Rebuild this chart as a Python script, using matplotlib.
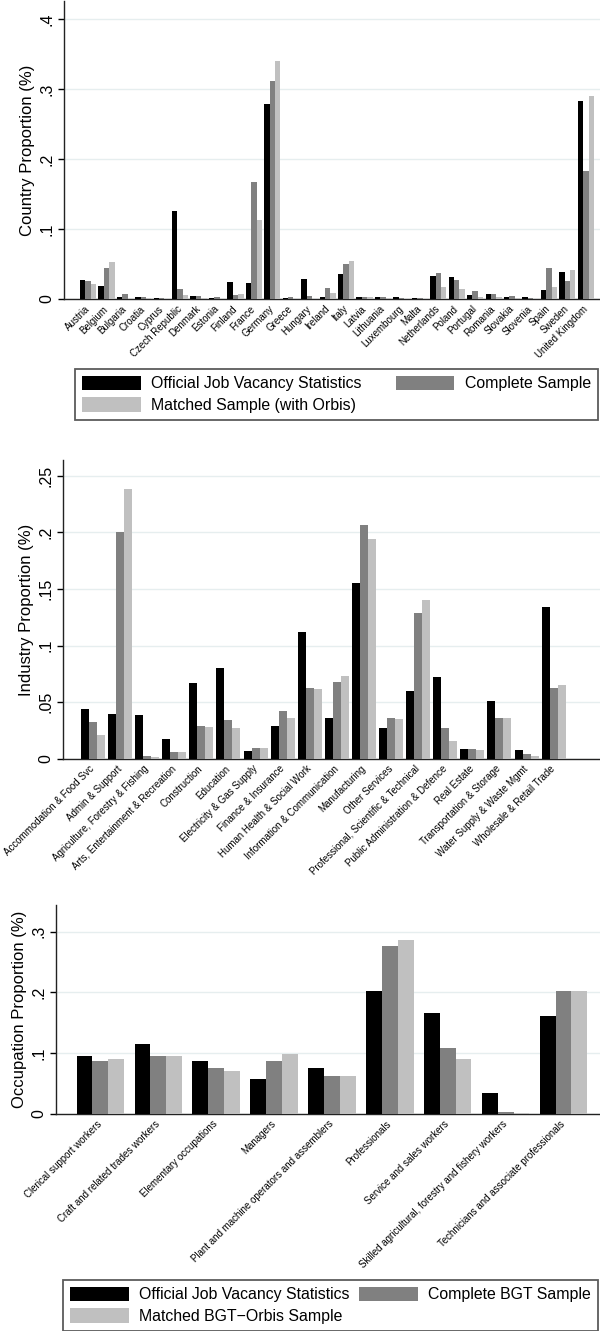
import matplotlib
matplotlib.use("Agg")
import matplotlib.pyplot as plt
import numpy as np
from matplotlib.patches import Patch

plt.rcParams['font.family'] = ['Liberation Sans', 'DejaVu Sans']

# bar colours for the three series
black = '#000000'
mid_gray = '#808080'
light_gray = '#c0c0c0'
grid_color = '#e6eeef'

# country shares
countries = ['Austria', 'Belgium', 'Bulgaria', 'Croatia', 'Cyprus', 'Czech Republic',
             'Denmark', 'Estonia', 'Finland', 'France', 'Germany', 'Greece', 'Hungary',
             'Ireland', 'Italy', 'Latvia', 'Lithuania', 'Luxembourg', 'Malta',
             'Netherlands', 'Poland', 'Portugal', 'Romania', 'Slovakia', 'Slovenia',
             'Spain', 'Sweden', 'United Kingdom']
country_official = [0.027, 0.019, 0.003, 0.003, 0.0015, 0.126, 0.004, 0.001, 0.024, 0.023,
                    0.279, 0.001, 0.029, 0.003, 0.036, 0.003, 0.003, 0.003, 0.001, 0.033,
                    0.031, 0.006, 0.007, 0.003, 0.003, 0.013, 0.039, 0.283]
country_complete = [0.026, 0.044, 0.007, 0.003, 0.001, 0.014, 0.004, 0.003, 0.006, 0.167,
                    0.311, 0.003, 0.004, 0.016, 0.050, 0.003, 0.003, 0.001, 0.001, 0.037,
                    0.027, 0.011, 0.007, 0.004, 0.001, 0.044, 0.026, 0.183]
country_matched = [0.021, 0.053, 0.0005, 0.001, 0.0005, 0.006, 0.001, 0.0005, 0.007, 0.113,
                   0.340, 0.0005, 0.0005, 0.009, 0.054, 0.003, 0.001, 0.0005, 0.0005, 0.017,
                   0.014, 0.003, 0.003, 0.001, 0.0005, 0.017, 0.041, 0.290]

# industry shares
industries = ['Accommodation & Food Svc', 'Admin & Support', 'Agriculture, Forestry & Fishing',
              'Arts, Entertainment & Recreation', 'Construction', 'Education',
              'Electricity & Gas Supply', 'Finance & Insurance', 'Human Health & Social Work',
              'Information & Communication', 'Manufacturing', 'Other Services',
              'Professional, Scientific & Technical', 'Public Administration & Defence',
              'Real Estate', 'Transportation & Storage', 'Water Supply & Waste Mgmt',
              'Wholesale & Retail Trade']
industry_official = [0.044, 0.040, 0.039, 0.018, 0.067, 0.080, 0.007, 0.029, 0.112,
                     0.036, 0.155, 0.027, 0.060, 0.072, 0.009, 0.051, 0.008, 0.134]
industry_complete = [0.033, 0.200, 0.003, 0.006, 0.029, 0.034, 0.010, 0.042, 0.063,
                     0.068, 0.207, 0.036, 0.129, 0.027, 0.009, 0.036, 0.004, 0.063]
industry_matched = [0.021, 0.238, 0.0015, 0.006, 0.028, 0.027, 0.010, 0.036, 0.062,
                    0.073, 0.194, 0.035, 0.140, 0.016, 0.008, 0.036, 0.003, 0.065]

# occupation shares
occupations = ['Clerical support workers', 'Craft and related trades workers',
               'Elementary occupations', 'Managers',
               'Plant and machine operators and assemblers', 'Professionals',
               'Service and sales workers',
               'Skilled agricultural, forestry and fishery workers',
               'Technicians and associate professionals']
occ_official = [0.096, 0.115, 0.088, 0.058, 0.075, 0.203, 0.166, 0.034, 0.162]
occ_complete = [0.088, 0.095, 0.076, 0.087, 0.062, 0.277, 0.108, 0.003, 0.203]
occ_matched = [0.090, 0.095, 0.070, 0.098, 0.063, 0.287, 0.091, 0.002, 0.203]


# 画一组三色分组柱状图
def groupedBars(ax, labels, series, width, xlim, ylim, yticks, yticklabels, ylabel,
                label_size):
    x = np.arange(len(labels))
    colors = [black, mid_gray, light_gray]
    for i, (vals, col) in enumerate(zip(series, colors)):
        ax.bar(x + (i - 1) * width, vals, width, color=col, linewidth=0, zorder=3)
    ax.set_xlim(*xlim)
    ax.set_ylim(*ylim)
    ax.set_yticks(yticks)
    ax.set_yticklabels(yticklabels, rotation=90, va='center', fontsize=11.5)
    ax.set_xticks(x)
    ax.set_xticklabels(labels, rotation=45, ha='right', va='center',
                       rotation_mode='anchor', fontsize=label_size)
    ax.tick_params(axis='x', length=0, pad=6)
    ax.tick_params(axis='y', length=4, width=1, direction='out', pad=3)
    ax.set_ylabel(ylabel, fontsize=12, labelpad=3)
    ax.grid(axis='y', color=grid_color, linewidth=1, zorder=0)
    ax.set_axisbelow(True)
    for side in ['top', 'right']:
        ax.spines[side].set_visible(False)
    for side in ['left', 'bottom']:
        ax.spines[side].set_color('#222222')
        ax.spines[side].set_linewidth(1.0)


# 图例：按行排列，外框为直角
def boxLegend(fig, names, box):
    handles = [Patch(facecolor=c, edgecolor='none') for c in [black, light_gray, mid_gray]]
    order = [names[0], names[2], names[1]]
    leg = fig.legend(handles, order, loc='lower left', bbox_to_anchor=box,
                     bbox_transform=fig.transFigure, mode='expand', ncol=2,
                     fontsize=11.4, handlelength=3.7, handleheight=1.0,
                     handletextpad=0.65, labelspacing=0.38, columnspacing=2.0,
                     borderpad=0.45, borderaxespad=0, fancybox=False)
    leg.get_frame().set_edgecolor('#333333')
    leg.get_frame().set_linewidth(1.3)
    return leg


W, H = 600, 1331
fig = plt.figure(figsize=(W / 100, H / 100), dpi=100)


def axesAt(left, top, right, bottom):
    return fig.add_axes([left / W, 1 - bottom / H, (right - left) / W, (bottom - top) / H])


ax1 = axesAt(64, 1, 600, 299)
groupedBars(ax1, countries, [country_official, country_complete, country_matched],
            0.293, (-1.30, 27.77), (0, 0.426), [0, 0.1, 0.2, 0.3, 0.4],
            ['0', '.1', '.2', '.3', '.4'], 'Country Proportion (%)', 7.0)

ax2 = axesAt(63, 460, 600, 759)
groupedBars(ax2, industries, [industry_official, industry_complete, industry_matched],
            0.295, (-1.107, 18.71), (0, 0.264), [0, 0.05, 0.1, 0.15, 0.2, 0.25],
            ['0', '.05', '.1', '.15', '.2', '.25'], 'Industry Proportion (%)', 7.0)

ax3 = axesAt(56, 905, 600, 1114)
groupedBars(ax3, occupations, [occ_official, occ_complete, occ_matched],
            0.273, (-0.766, 8.63), (0, 0.344), [0, 0.1, 0.2, 0.3],
            ['0', '.1', '.2', '.3'], 'Occupation Proportion (%)', 7.0)

boxLegend(fig, ['Official Job Vacancy Statistics', 'Complete Sample',
                'Matched Sample (with Orbis)'],
          (75 / W, 1 - 420 / H, 523 / W, 51 / H))
boxLegend(fig, ['Official Job Vacancy Statistics', 'Complete BGT Sample',
                'Matched BGT\u2212Orbis Sample'],
          (63 / W, 1 - 1331 / H, 535 / W, 49 / H))

fig.savefig('out.png', dpi=100, facecolor='white')
